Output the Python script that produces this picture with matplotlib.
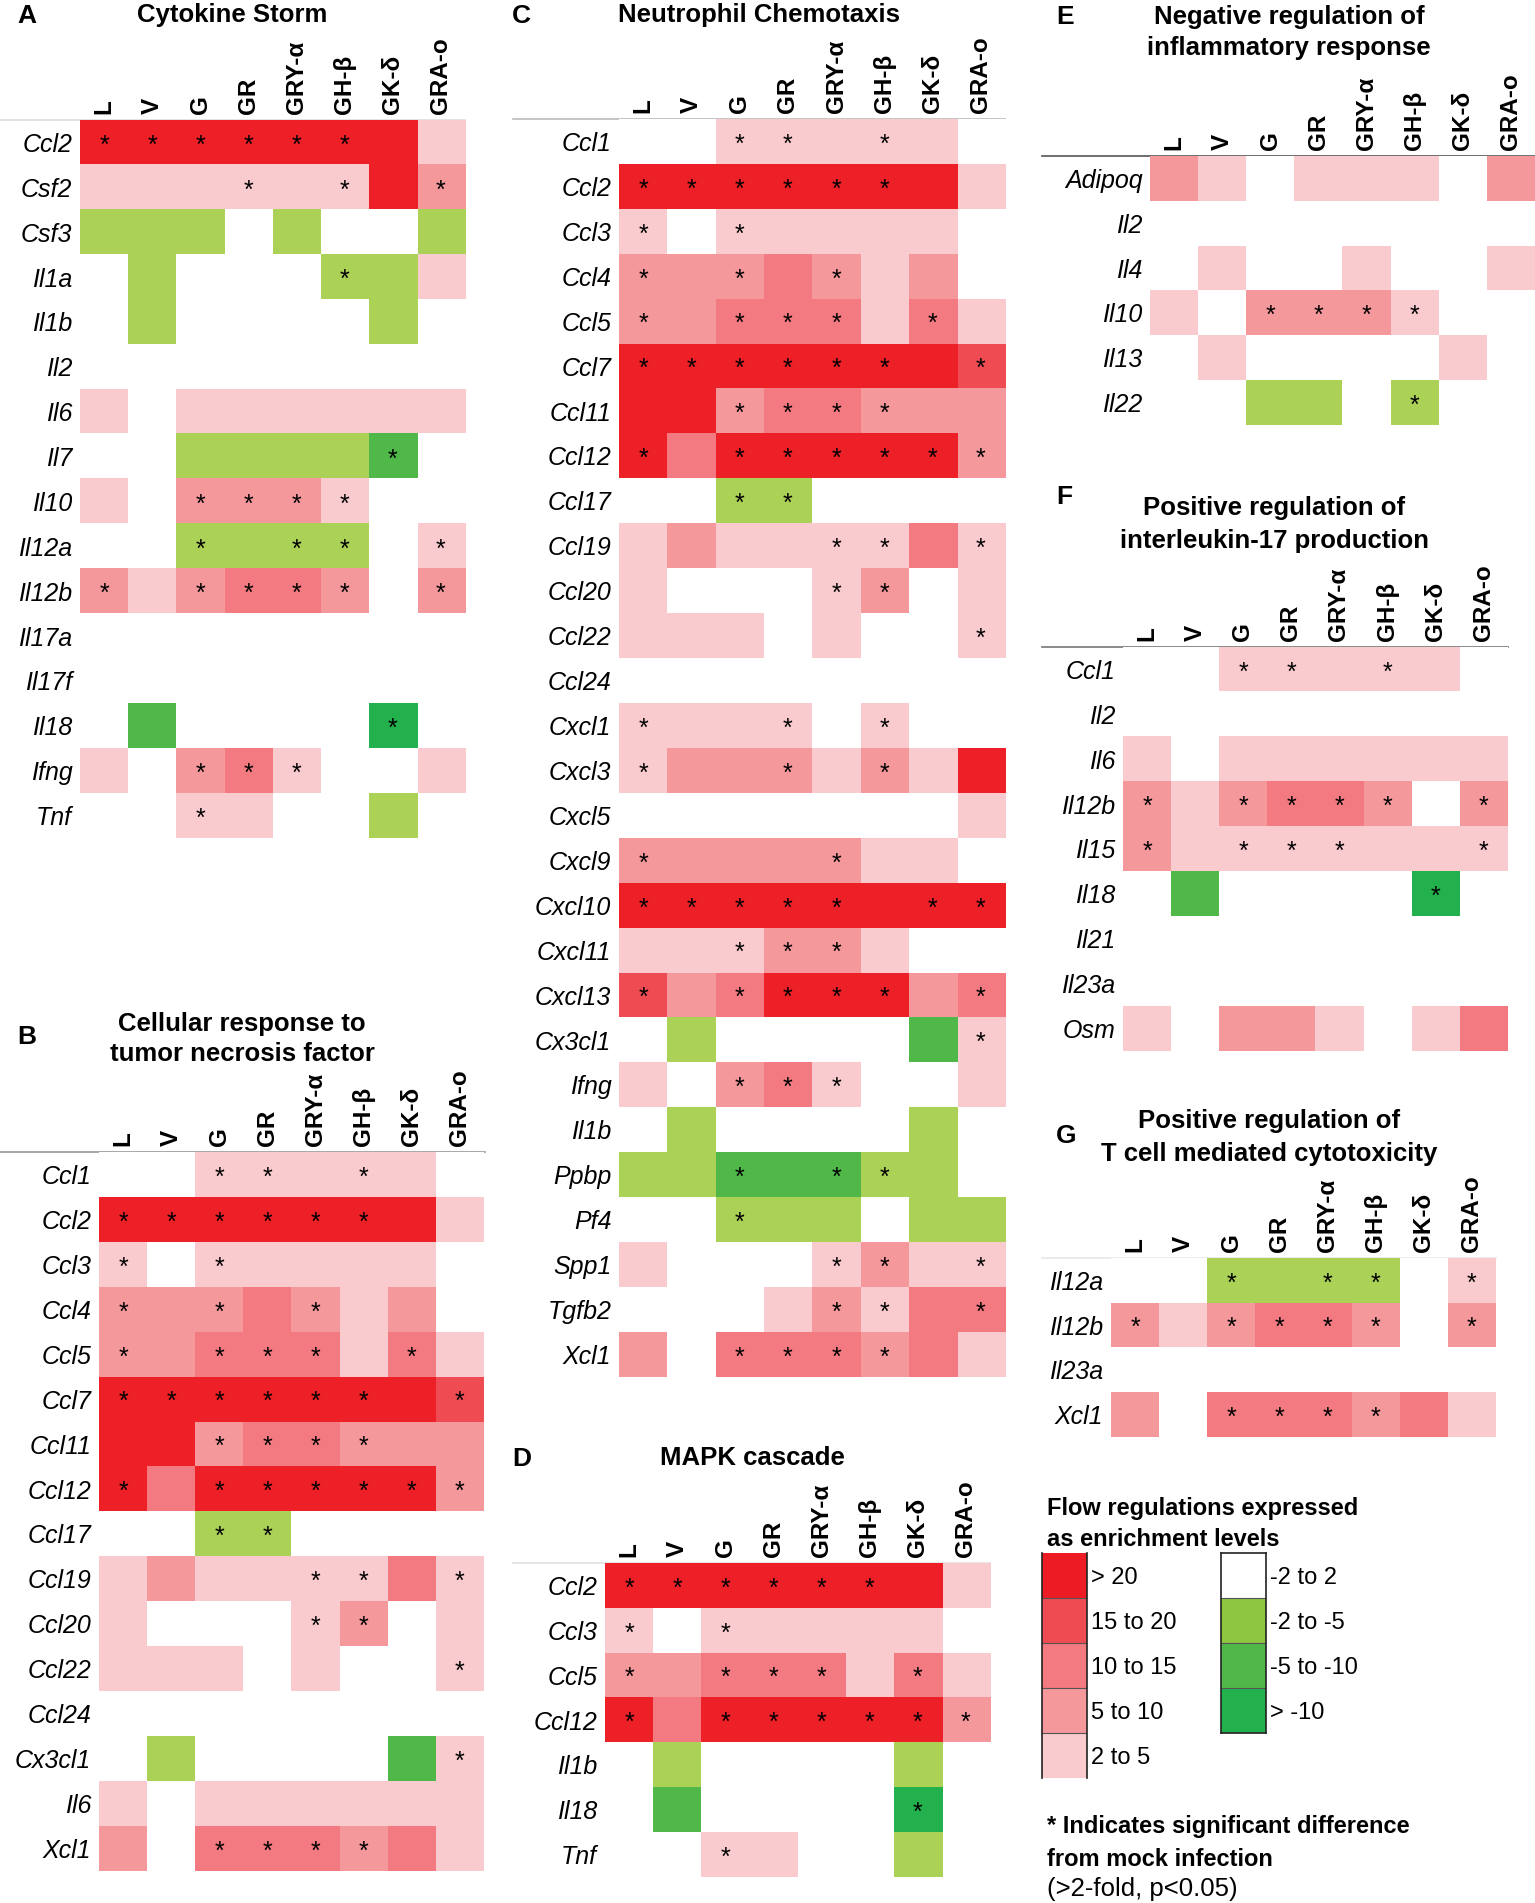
import numpy as np
import matplotlib
matplotlib.use("Agg")
import matplotlib.pyplot as plt
from matplotlib.colors import ListedColormap, BoundaryNorm
from matplotlib.lines import Line2D

# ---------------- data ----------------
conditions = ["L", "V", "G", "GR", "GRY-α", "GH-β", "GK-δ", "GRA-o"]

# enrichment level codes: 5 >20, 4 15-20, 3 10-15, 2 5-10, 1 2-5, 0 -2..2,
# -1 -2..-5, -2 -5..-10, -3 >-10
level_codes = [5, 4, 3, 2, 1, 0, -1, -2, -3]
level_labels = ["> 20", "15 to 20", "10 to 15", "5 to 10", "2 to 5",
                "-2 to 2", "-2 to -5", "-5 to -10", "> -10"]

A_genes = ["Ccl2", "Csf2", "Csf3", "Il1a", "Il1b", "Il2", "Il6", "Il7", "Il10",
           "Il12a", "Il12b", "Il17a", "Il17f", "Il18", "Ifng", "Tnf"]
A_levels = [
    [5, 5, 5, 5, 5, 5, 5, 1],
    [1, 1, 1, 1, 1, 1, 5, 2],
    [-1, -1, -1, 0, -1, 0, 0, -1],
    [0, -1, 0, 0, 0, -1, -1, 1],
    [0, -1, 0, 0, 0, 0, -1, 0],
    [0, 0, 0, 0, 0, 0, 0, 0],
    [1, 0, 1, 1, 1, 1, 1, 1],
    [0, 0, -1, -1, -1, -1, -2, 0],
    [1, 0, 2, 2, 2, 1, 0, 0],
    [0, 0, -1, -1, -1, -1, 0, 1],
    [2, 1, 2, 3, 3, 2, 0, 2],
    [0, 0, 0, 0, 0, 0, 0, 0],
    [0, 0, 0, 0, 0, 0, 0, 0],
    [0, -2, 0, 0, 0, 0, -3, 0],
    [1, 0, 2, 3, 1, 0, 0, 1],
    [0, 0, 1, 1, 0, 0, -1, 0],
]
A_stars = [
    [1, 1, 1, 1, 1, 1, 0, 0],
    [0, 0, 0, 1, 0, 1, 0, 1],
    [0, 0, 0, 0, 0, 0, 0, 0],
    [0, 0, 0, 0, 0, 1, 0, 0],
    [0, 0, 0, 0, 0, 0, 0, 0],
    [0, 0, 0, 0, 0, 0, 0, 0],
    [0, 0, 0, 0, 0, 0, 0, 0],
    [0, 0, 0, 0, 0, 0, 1, 0],
    [0, 0, 1, 1, 1, 1, 0, 0],
    [0, 0, 1, 0, 1, 1, 0, 1],
    [1, 0, 1, 1, 1, 1, 0, 1],
    [0, 0, 0, 0, 0, 0, 0, 0],
    [0, 0, 0, 0, 0, 0, 0, 0],
    [0, 0, 0, 0, 0, 0, 1, 0],
    [0, 0, 1, 1, 1, 0, 0, 0],
    [0, 0, 1, 0, 0, 0, 0, 0],
]

B_genes = ["Ccl1", "Ccl2", "Ccl3", "Ccl4", "Ccl5", "Ccl7", "Ccl11", "Ccl12",
           "Ccl17", "Ccl19", "Ccl20", "Ccl22", "Ccl24", "Cx3cl1", "Il6", "Xcl1"]
B_levels = [
    [0, 0, 1, 1, 1, 1, 1, 0],
    [5, 5, 5, 5, 5, 5, 5, 1],
    [1, 0, 1, 1, 1, 1, 1, 0],
    [2, 2, 2, 3, 2, 1, 2, 0],
    [2, 2, 3, 3, 3, 1, 3, 1],
    [5, 5, 5, 5, 5, 5, 5, 4],
    [5, 5, 2, 3, 3, 2, 2, 2],
    [5, 3, 5, 5, 5, 5, 5, 2],
    [0, 0, -1, -1, 0, 0, 0, 0],
    [1, 2, 1, 1, 1, 1, 3, 1],
    [1, 0, 0, 0, 1, 2, 0, 1],
    [1, 1, 1, 0, 1, 0, 0, 1],
    [0, 0, 0, 0, 0, 0, 0, 0],
    [0, -1, 0, 0, 0, 0, -2, 1],
    [1, 0, 1, 1, 1, 1, 1, 1],
    [2, 0, 3, 3, 3, 2, 3, 1],
]
B_stars = [
    [0, 0, 1, 1, 0, 1, 0, 0],
    [1, 1, 1, 1, 1, 1, 0, 0],
    [1, 0, 1, 0, 0, 0, 0, 0],
    [1, 0, 1, 0, 1, 0, 0, 0],
    [1, 0, 1, 1, 1, 0, 1, 0],
    [1, 1, 1, 1, 1, 1, 0, 1],
    [0, 0, 1, 1, 1, 1, 0, 0],
    [1, 0, 1, 1, 1, 1, 1, 1],
    [0, 0, 1, 1, 0, 0, 0, 0],
    [0, 0, 0, 0, 1, 1, 0, 1],
    [0, 0, 0, 0, 1, 1, 0, 0],
    [0, 0, 0, 0, 0, 0, 0, 1],
    [0, 0, 0, 0, 0, 0, 0, 0],
    [0, 0, 0, 0, 0, 0, 0, 1],
    [0, 0, 0, 0, 0, 0, 0, 0],
    [0, 0, 1, 1, 1, 1, 0, 0],
]

C_genes = ["Ccl1", "Ccl2", "Ccl3", "Ccl4", "Ccl5", "Ccl7", "Ccl11", "Ccl12",
           "Ccl17", "Ccl19", "Ccl20", "Ccl22", "Ccl24", "Cxcl1", "Cxcl3", "Cxcl5",
           "Cxcl9", "Cxcl10", "Cxcl11", "Cxcl13", "Cx3cl1", "Ifng", "Il1b", "Ppbp",
           "Pf4", "Spp1", "Tgfb2", "Xcl1"]
C_levels = [
    [0, 0, 1, 1, 1, 1, 1, 0],
    [5, 5, 5, 5, 5, 5, 5, 1],
    [1, 0, 1, 1, 1, 1, 1, 0],
    [2, 2, 2, 3, 2, 1, 2, 0],
    [2, 2, 3, 3, 3, 1, 3, 1],
    [5, 5, 5, 5, 5, 5, 5, 4],
    [5, 5, 2, 3, 3, 2, 2, 2],
    [5, 3, 5, 5, 5, 5, 5, 2],
    [0, 0, -1, -1, 0, 0, 0, 0],
    [1, 2, 1, 1, 1, 1, 3, 1],
    [1, 0, 0, 0, 1, 2, 0, 1],
    [1, 1, 1, 0, 1, 0, 0, 1],
    [0, 0, 0, 0, 0, 0, 0, 0],
    [1, 1, 1, 1, 0, 1, 0, 0],
    [1, 2, 2, 2, 1, 2, 1, 5],
    [0, 0, 0, 0, 0, 0, 0, 1],
    [2, 2, 2, 2, 2, 1, 1, 0],
    [5, 5, 5, 5, 5, 5, 5, 5],
    [1, 1, 1, 2, 2, 1, 0, 0],
    [4, 2, 3, 5, 5, 5, 2, 3],
    [0, -1, 0, 0, 0, 0, -2, 1],
    [1, 0, 2, 3, 1, 0, 0, 1],
    [0, -1, 0, 0, 0, 0, -1, 0],
    [-1, -1, -2, -2, -2, -1, -1, 0],
    [0, 0, -1, -1, -1, 0, -1, -1],
    [1, 0, 0, 0, 1, 2, 1, 1],
    [0, 0, 0, 1, 2, 1, 3, 3],
    [2, 0, 3, 3, 3, 2, 3, 1],
]
C_stars = [
    [0, 0, 1, 1, 0, 1, 0, 0],
    [1, 1, 1, 1, 1, 1, 0, 0],
    [1, 0, 1, 0, 0, 0, 0, 0],
    [1, 0, 1, 0, 1, 0, 0, 0],
    [1, 0, 1, 1, 1, 0, 1, 0],
    [1, 1, 1, 1, 1, 1, 0, 1],
    [0, 0, 1, 1, 1, 1, 0, 0],
    [1, 0, 1, 1, 1, 1, 1, 1],
    [0, 0, 1, 1, 0, 0, 0, 0],
    [0, 0, 0, 0, 1, 1, 0, 1],
    [0, 0, 0, 0, 1, 1, 0, 0],
    [0, 0, 0, 0, 0, 0, 0, 1],
    [0, 0, 0, 0, 0, 0, 0, 0],
    [1, 0, 0, 1, 0, 1, 0, 0],
    [1, 0, 0, 1, 0, 1, 0, 0],
    [0, 0, 0, 0, 0, 0, 0, 0],
    [1, 0, 0, 0, 1, 0, 0, 0],
    [1, 1, 1, 1, 1, 0, 1, 1],
    [0, 0, 1, 1, 1, 0, 0, 0],
    [1, 0, 1, 1, 1, 1, 0, 1],
    [0, 0, 0, 0, 0, 0, 0, 1],
    [0, 0, 1, 1, 1, 0, 0, 0],
    [0, 0, 0, 0, 0, 0, 0, 0],
    [0, 0, 1, 0, 1, 1, 0, 0],
    [0, 0, 1, 0, 0, 0, 0, 0],
    [0, 0, 0, 0, 1, 1, 0, 1],
    [0, 0, 0, 0, 1, 1, 0, 1],
    [0, 0, 1, 1, 1, 1, 0, 0],
]

D_genes = ["Ccl2", "Ccl3", "Ccl5", "Ccl12", "Il1b", "Il18", "Tnf"]
D_levels = [
    [5, 5, 5, 5, 5, 5, 5, 1],
    [1, 0, 1, 1, 1, 1, 1, 0],
    [2, 2, 3, 3, 3, 1, 3, 1],
    [5, 3, 5, 5, 5, 5, 5, 2],
    [0, -1, 0, 0, 0, 0, -1, 0],
    [0, -2, 0, 0, 0, 0, -3, 0],
    [0, 0, 1, 1, 0, 0, -1, 0],
]
D_stars = [
    [1, 1, 1, 1, 1, 1, 0, 0],
    [1, 0, 1, 0, 0, 0, 0, 0],
    [1, 0, 1, 1, 1, 0, 1, 0],
    [1, 0, 1, 1, 1, 1, 1, 1],
    [0, 0, 0, 0, 0, 0, 0, 0],
    [0, 0, 0, 0, 0, 0, 1, 0],
    [0, 0, 1, 0, 0, 0, 0, 0],
]

E_genes = ["Adipoq", "Il2", "Il4", "Il10", "Il13", "Il22"]
E_levels = [
    [2, 1, 0, 1, 1, 1, 0, 2],
    [0, 0, 0, 0, 0, 0, 0, 0],
    [0, 1, 0, 0, 1, 0, 0, 1],
    [1, 0, 2, 2, 2, 1, 0, 0],
    [0, 1, 0, 0, 0, 0, 1, 0],
    [0, 0, -1, -1, 0, -1, 0, 0],
]
E_stars = [
    [0, 0, 0, 0, 0, 0, 0, 0],
    [0, 0, 0, 0, 0, 0, 0, 0],
    [0, 0, 0, 0, 0, 0, 0, 0],
    [0, 0, 1, 1, 1, 1, 0, 0],
    [0, 0, 0, 0, 0, 0, 0, 0],
    [0, 0, 0, 0, 0, 1, 0, 0],
]

F_genes = ["Ccl1", "Il2", "Il6", "Il12b", "Il15", "Il18", "Il21", "Il23a", "Osm"]
F_levels = [
    [0, 0, 1, 1, 1, 1, 1, 0],
    [0, 0, 0, 0, 0, 0, 0, 0],
    [1, 0, 1, 1, 1, 1, 1, 1],
    [2, 1, 2, 3, 3, 2, 0, 2],
    [2, 1, 1, 1, 1, 1, 1, 1],
    [0, -2, 0, 0, 0, 0, -3, 0],
    [0, 0, 0, 0, 0, 0, 0, 0],
    [0, 0, 0, 0, 0, 0, 0, 0],
    [1, 0, 2, 2, 1, 0, 1, 3],
]
F_stars = [
    [0, 0, 1, 1, 0, 1, 0, 0],
    [0, 0, 0, 0, 0, 0, 0, 0],
    [0, 0, 0, 0, 0, 0, 0, 0],
    [1, 0, 1, 1, 1, 1, 0, 1],
    [1, 0, 1, 1, 1, 0, 0, 1],
    [0, 0, 0, 0, 0, 0, 1, 0],
    [0, 0, 0, 0, 0, 0, 0, 0],
    [0, 0, 0, 0, 0, 0, 0, 0],
    [0, 0, 0, 0, 0, 0, 0, 0],
]

G_genes = ["Il12a", "Il12b", "Il23a", "Xcl1"]
G_levels = [
    [0, 0, -1, -1, -1, -1, 0, 1],
    [2, 1, 2, 3, 3, 2, 0, 2],
    [0, 0, 0, 0, 0, 0, 0, 0],
    [2, 0, 3, 3, 3, 2, 3, 1],
]
G_stars = [
    [0, 0, 1, 0, 1, 1, 0, 1],
    [1, 0, 1, 1, 1, 1, 0, 1],
    [0, 0, 0, 0, 0, 0, 0, 0],
    [0, 0, 1, 1, 1, 1, 0, 0],
]

# ---------------- style ----------------
plt.rcParams['font.family'] = ['Liberation Sans', 'DejaVu Sans']

W, H = 1535, 1903
fig = plt.figure(figsize=(W / 100, H / 100), dpi=100)

# colours ordered from lowest code (-3) to highest (5)
cell_colors = ['#22B14C', '#50B848', '#ABD156', '#FFFFFF',
               '#F9CBCF', '#F4989C', '#F27A80', '#EF4B53', '#ED1F27']
legend_colors = ['#22B14C', '#50B848', '#8DC63F', '#FFFFFF',
                 '#F9CBCF', '#F4989C', '#F27A80', '#EF4B53', '#ED1C24']
bounds = np.arange(-3.5, 6.0, 1.0)
cmap = ListedColormap(cell_colors)
cmap_leg = ListedColormap(legend_colors)
norm = BoundaryNorm(bounds, cmap.N)


def fx(x):
    return x / W


def fy(y):
    return 1 - y / H


def add_ax(x0, y0, w, h):
    return fig.add_axes([fx(x0), fy(y0 + h), w / W, h / H])


def heatmap(rect, genes, levels, stars, line_x, line_color, star_dy=0.57):
    x0, y0, w, h = rect
    ax = add_ax(x0, y0, w, h)
    data = np.array(levels)
    n = data.shape[0]
    ax.imshow(data, cmap=cmap, norm=norm, aspect='auto',
              interpolation='nearest', extent=(0, 8, n, 0))
    ax.set_xlim(0, 8)
    ax.set_ylim(n, 0)
    for s in ax.spines.values():
        s.set_visible(False)
    ax.set_yticks(np.arange(n) + 0.5)
    ax.set_yticklabels(genes, fontsize=18, style='italic')
    ax.xaxis.tick_top()
    ax.set_xticks(np.arange(8) + 0.5)
    ax.set_xticklabels(conditions, rotation=90, fontsize=17.5,
                       fontweight='bold')
    ax.tick_params(axis='both', length=0)
    ax.tick_params(axis='y', pad=5.5)
    ax.tick_params(axis='x', pad=4.5)
    st = np.array(stars)
    for i in range(n):
        for j in range(8):
            if st[i, j]:
                ax.text(j + 0.5, i + star_dy, '*', ha='center', va='center',
                        fontsize=18, color='black')
    fig.add_artist(Line2D([fx(line_x[0]), fx(line_x[1])], [fy(y0), fy(y0)],
                          color=line_color, lw=1.2, zorder=0))
    return ax


def title(x, ys, lines):
    for y, t in zip(ys, lines):
        fig.text(fx(x), fy(y), t, ha='center', va='center', fontsize=18.5,
                 fontweight='bold')


def letter(x, y, t):
    fig.text(fx(x), fy(y), t, ha='left', va='center', fontsize=19,
             fontweight='bold')


# ---------------- panels ----------------
heatmap((80, 120, 385, 718), A_genes, A_levels, A_stars, (0, 465), '#dddddd')
title(232, [15], ["Cytokine Storm"])
letter(17, 16, "A")

heatmap((99, 1152, 385, 719), B_genes, B_levels, B_stars, (0, 485), '#999999')
title(242, [1024, 1054], ["Cellular response to", "tumor necrosis factor"])
letter(17, 1037, "B")

heatmap((619, 119, 386, 1258), C_genes, C_levels, C_stars, (513, 1005), '#bbbbbb')
title(759, [15], ["Neutrophil Chemotaxis"])
letter(512, 16, "C")

heatmap((605, 1563, 385, 314), D_genes, D_levels, D_stars, (513, 990), '#e2e2e2')
title(752, [1458], ["MAPK cascade"])
letter(512, 1459, "D")

heatmap((1150, 156, 385, 269), E_genes, E_levels, E_stars, (1042, 1535), '#555555')
title(1289, [17, 48], ["Negative regulation of", "inflammatory response"])
letter(1056, 17, "E")

heatmap((1123, 647, 384, 404), F_genes, F_levels, F_stars, (1042, 1508), '#777777')
title(1274, [508, 541], ["Positive regulation of", "interleukin-17 production"])
letter(1056, 497, "F")

heatmap((1111, 1258, 385, 179), G_genes, G_levels, G_stars, (1042, 1496), '#e8e8e8')
title(1269, [1121, 1154], ["Positive regulation of", "T cell mediated cytotoxicity"])
letter(1056, 1136, "G")

# ---------------- legend ----------------
fig.text(fx(1047), fy(1509), "Flow regulations expressed", ha='left',
         va='center', fontsize=17, fontweight='bold')
fig.text(fx(1047), fy(1539), "as enrichment levels", ha='left',
         va='center', fontsize=17, fontweight='bold')


def legend_column(rect, codes, labels, spines_all):
    x0, y0, w, h = rect
    ax = add_ax(x0, y0, w, h)
    data = np.array(codes).reshape(-1, 1)
    n = len(codes)
    ax.imshow(data, cmap=cmap_leg, norm=norm, aspect='auto',
              interpolation='nearest', extent=(0, 1, n, 0))
    ax.set_xlim(0, 1)
    ax.set_ylim(n, 0)
    for k in range(1, n):
        ax.axhline(k, color='#555555', lw=0.8)
    for name, s in ax.spines.items():
        s.set_linewidth(1.2)
        s.set_color('#222222')
        if not spines_all and name in ('top', 'bottom'):
            s.set_visible(False)
    ax.set_xticks([])
    ax.yaxis.tick_right()
    ax.set_yticks(np.arange(n) + 0.5)
    ax.set_yticklabels(labels, fontsize=17)
    ax.tick_params(axis='y', length=0, pad=3)
    return ax


legend_column((1042, 1553, 45, 225), level_codes[:5], level_labels[:5], False)
legend_column((1221, 1553, 45, 180), level_codes[5:], level_labels[5:], True)

fig.text(fx(1047), fy(1827), "* Indicates significant difference", ha='left',
         va='center', fontsize=17, fontweight='bold')
fig.text(fx(1047), fy(1859), "from mock infection", ha='left',
         va='center', fontsize=17, fontweight='bold')
fig.text(fx(1047), fy(1889), "(>2-fold, p<0.05)", ha='left',
         va='center', fontsize=18.5)

fig.savefig("out.png", dpi=100)
